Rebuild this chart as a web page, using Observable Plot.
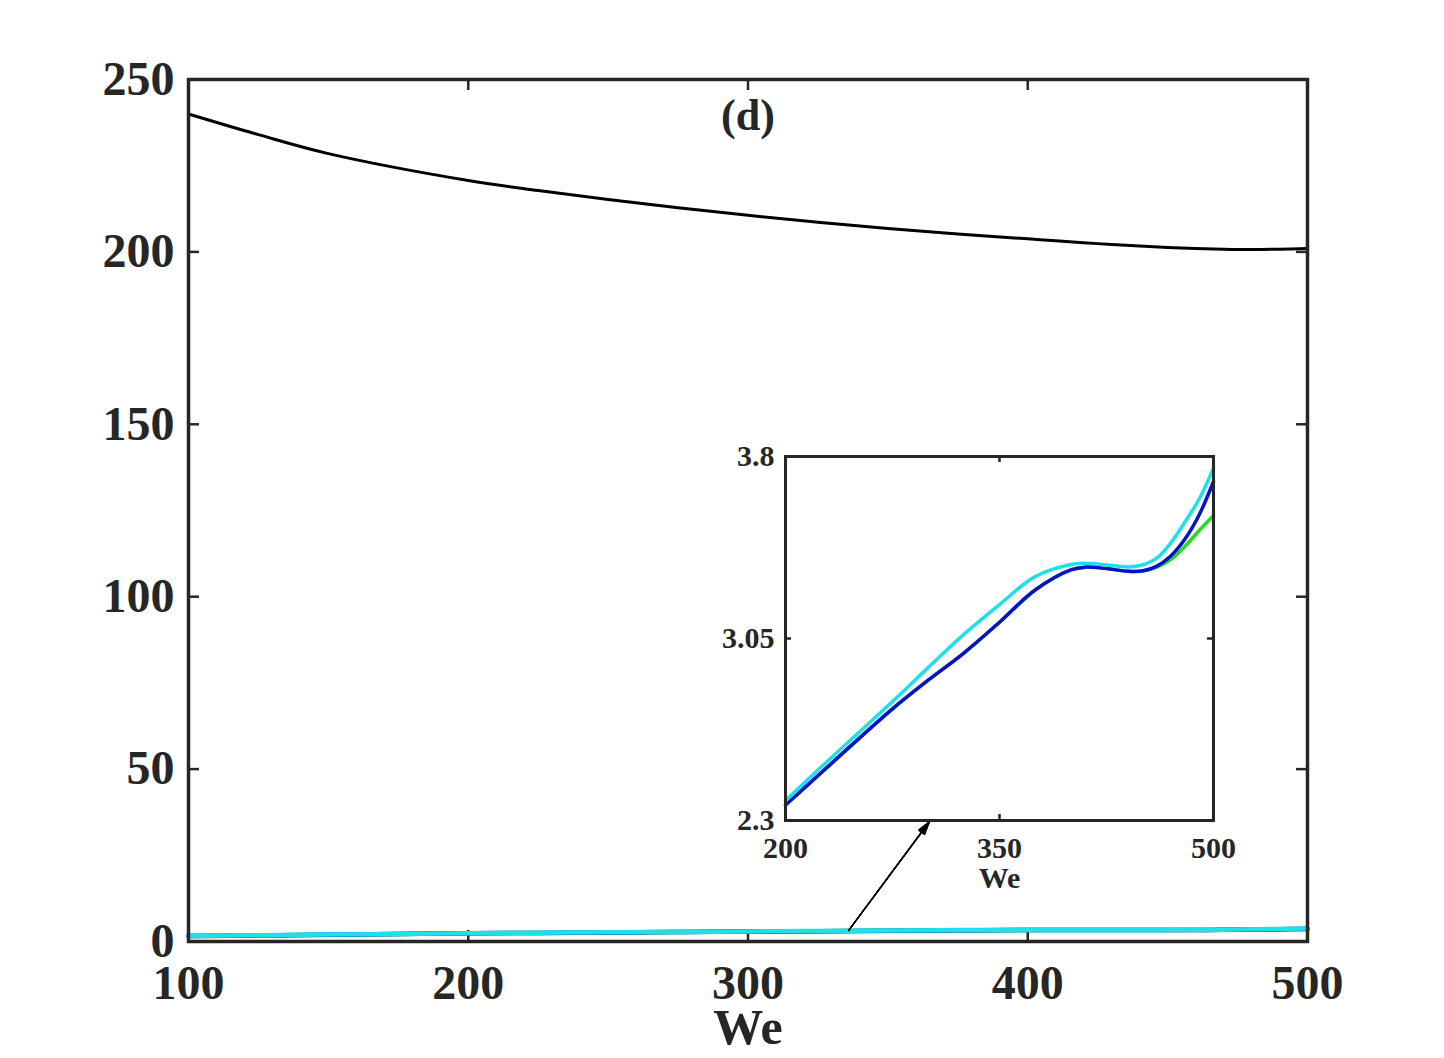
<!DOCTYPE html>
<html>
<head>
<meta charset="utf-8">
<script src="https://cdn.jsdelivr.net/npm/d3@7"></script>
<script src="https://cdn.jsdelivr.net/npm/@observablehq/plot@0.6"></script>
<style>
  html, body { margin: 0; padding: 0; background: #fff; overflow: hidden; }
  #wrap { position: relative; width: 1444px; height: 1058px; }
  #inset { position: absolute; left: 715px; top: 431px; }
  svg { font-family: "Liberation Serif", "Times New Roman", serif; }
</style>
</head>
<body>
<div id="wrap"><div id="main"></div><div id="inset"></div></div>
<script>
// ---- data ----
const We    = [100, 125, 150, 200, 225, 250, 275, 300, 325, 350, 375, 400, 410, 425, 440, 450, 460, 470, 480, 490, 500];
const black = [240, 234, 228.5, 220.7, 217.8, 215.2, 212.8, 210.6, 208.6, 206.8, 205.2, 203.8, 203.2, 202.4, 201.7, 201.3, 201.0, 200.8, 200.7, 200.8, 201.0];
const cyan  = [1.6, 1.8, 2.0, 2.382, 2.52, 2.655, 2.79, 2.93, 3.067, 3.19, 3.305, 3.355, 3.36, 3.353, 3.345, 3.353, 3.38, 3.443, 3.53, 3.625, 3.752];
const blue  = [1.58, 1.78, 1.98, 2.364, 2.497, 2.63, 2.76, 2.878, 2.99, 3.117, 3.25, 3.333, 3.344, 3.338, 3.327, 3.328, 3.347, 3.39, 3.46, 3.56, 3.697];
const green = [1.58, 1.78, 1.98, 2.364, 2.497, 2.63, 2.76, 2.878, 2.99, 3.117, 3.25, 3.333, 3.344, 3.338, 3.327, 3.328, 3.343, 3.375, 3.43, 3.495, 3.557];

const xTicks = [100, 200, 300, 400, 500];
const yTicks = [0, 50, 100, 150, 200, 250];
const insetXTicks = [200, 350, 500];
const insetYTicks = [2.3, 3.05, 3.8];
const arrowData = [{x1: 336, y1: 3.2, x2: 364.9, y2: 34.8}];

const colors = {black: "#000000", green: "#22dd22", blue: "#0a12c8", cyan: "#1fe0e8"};
const axisColor = "#262626";

const series = [
  {name: "black", values: black},
  {name: "green", values: green},
  {name: "blue", values: blue},
  {name: "cyan", values: cyan}
];
const rows = series.flatMap(s => s.values.map((v, i) => ({series: s.name, We: We[i], v})));

// ---- main chart ----
const W = 1444, H = 1058, mL = 188, mR = 137, mT = 79, mB = 117;
const innerW = W - mL - mR, innerH = H - mT - mB;
const tk = 11;

// arrow drawn several times with growing head angles so the head looks filled
const arrowHeads = [8, 16, 24, 32].map(a =>
  Plot.arrow(arrowData, {x1: "x1", y1: "y1", x2: "x2", y2: "y2", stroke: "#000", strokeWidth: 1.3, headLength: 16, headAngle: a}));

const main = Plot.plot({
  width: W, height: H,
  marginLeft: mL, marginRight: mR, marginTop: mT, marginBottom: mB,
  style: {fontFamily: "Liberation Serif", fontWeight: "bold", color: axisColor, background: "#fff"},
  x: {domain: [100, 500], label: null},
  y: {domain: [0, 250], label: null},
  marks: [
    Plot.ruleX(xTicks.slice(1, -1), {insetTop: innerH - tk, stroke: axisColor, strokeWidth: 2.5}),
    Plot.ruleX(xTicks.slice(1, -1), {insetBottom: innerH - tk, stroke: axisColor, strokeWidth: 2.5}),
    Plot.ruleY(yTicks.slice(1, -1), {insetRight: innerW - tk, stroke: axisColor, strokeWidth: 2.5}),
    Plot.ruleY(yTicks.slice(1, -1), {insetLeft: innerW - tk, stroke: axisColor, strokeWidth: 2.5}),
    Plot.axisX({ticks: xTicks, tickSize: 0, tickPadding: 23, fontSize: 48, fontWeight: "bold", fill: axisColor, label: null}),
    Plot.axisY({ticks: yTicks, tickSize: 0, tickPadding: 14, fontSize: 48, fontWeight: "bold", fill: axisColor, label: null}),
    Plot.line(rows, {x: "We", y: "v", z: "series", stroke: d => colors[d.series], curve: "catmull-rom",
      strokeWidth: d => d.series === "black" ? 3 : 4.5}),
    ...arrowHeads,
    Plot.text(["(d)"], {frameAnchor: "top", dy: 19, fontSize: 44, fontWeight: "bold", fill: axisColor}),
    Plot.text(["We"], {frameAnchor: "bottom", dy: 102, fontSize: 50, fontWeight: "bold", fill: axisColor}),
    Plot.frame({stroke: axisColor, strokeWidth: 3.5})
  ]
});
document.getElementById("main").appendChild(main);

// ---- inset ----
const iW = 528, iH = 464, imL = 70, imR = 30, imT = 25, imB = 75;
const iInnerW = iW - imL - imR, iInnerH = iH - imT - imB;
const itk = 6;
const insetRows = rows.filter(d => d.series !== "black" && d.We >= 200);

const inset = Plot.plot({
  width: iW, height: iH,
  marginLeft: imL, marginRight: imR, marginTop: imT, marginBottom: imB,
  style: {fontFamily: "Liberation Serif", fontWeight: "bold", color: axisColor, background: "transparent", overflow: "visible"},
  x: {domain: [200, 500], label: null},
  y: {domain: [2.3, 3.8], label: null},
  marks: [
    Plot.frame({fill: "#fff"}),
    Plot.ruleX(insetXTicks.slice(1, -1), {insetTop: iInnerH - itk, stroke: axisColor, strokeWidth: 2.5}),
    Plot.ruleX(insetXTicks.slice(1, -1), {insetBottom: iInnerH - itk, stroke: axisColor, strokeWidth: 2.5}),
    Plot.ruleY(insetYTicks.slice(1, -1), {insetRight: iInnerW - itk, stroke: axisColor, strokeWidth: 2.5}),
    Plot.ruleY(insetYTicks.slice(1, -1), {insetLeft: iInnerW - itk, stroke: axisColor, strokeWidth: 2.5}),
    Plot.axisX({ticks: insetXTicks, tickSize: 0, tickPadding: 16, fontSize: 30, fontWeight: "bold", fill: axisColor, label: null}),
    Plot.axisY({ticks: insetYTicks, tickSize: 0, tickPadding: 11, fontSize: 30, fontWeight: "bold", fill: axisColor, label: null, tickFormat: d => String(d)}),
    Plot.line(insetRows, {x: "We", y: "v", z: "series", stroke: d => colors[d.series], curve: "catmull-rom", strokeWidth: 3.5}),
    Plot.text(["We"], {frameAnchor: "bottom", dy: 67, fontSize: 30, fontWeight: "bold", fill: axisColor}),
    Plot.frame({stroke: axisColor, strokeWidth: 3})
  ]
});
document.getElementById("inset").appendChild(inset);
</script>
</body>
</html>
